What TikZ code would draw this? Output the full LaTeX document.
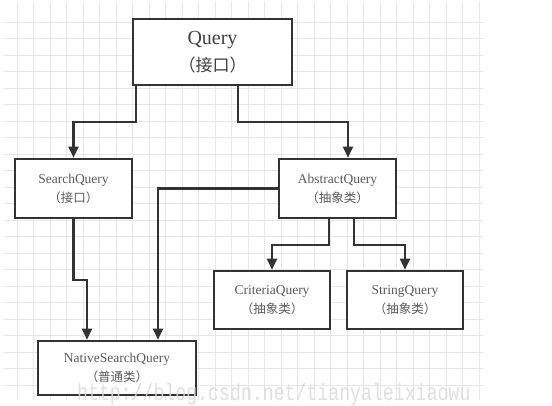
\documentclass[tikz,border=0pt]{standalone}
\usepackage{fontspec}
\setmainfont{Liberation Serif}
\newfontfamily\cjk{Noto Sans CJK SC}
\newfontfamily\wmfont{Liberation Mono}
\usetikzlibrary{arrows.meta}
\definecolor{gridc}{HTML}{E6E6E6}
\definecolor{linec}{HTML}{333333}
\definecolor{txtc}{HTML}{5A5A5A}
\definecolor{wmc}{HTML}{DADADA}
\tikzset{
  box/.style={draw=linec, line width=2.6pt, fill=white, inner sep=0pt, align=center, text=txtc},
  bigbox/.style={box, minimum width=159pt, minimum height=66pt, font=\fontsize{20}{28}\selectfont},
  smallbox/.style={box, minimum width=117pt, minimum height=59pt, font=\fontsize{13.5}{19}\selectfont},
  conn/.style={draw=linec, line width=2.3pt, -{Triangle[length=11pt,width=10pt]}},
  cjksmall/.style={},
}
\newcommand{\cjks}[1]{{\cjk\fontsize{12.5}{15}\selectfont #1}}
\begin{document}
\begin{tikzpicture}[x=1pt,y=-1pt]
\useasboundingbox (0,0) rectangle (552,405);
\fill[white] (0,0) rectangle (552,405);
% grid
\foreach \k in {1,...,29} \draw[gridc, line width=0.9pt] ({0.5+16.5*\k},2) -- ({0.5+16.5*\k},400);
\foreach \k in {1,...,23} \draw[gridc, line width=0.9pt] (3,{5.5+16.5*\k}) -- (483,{5.5+16.5*\k});
% nodes
\node[bigbox, text=black!75] (Q) at (212.5,52) {Query\\[-1pt]{\cjk\fontsize{17}{20}\selectfont （接口）}};
\node[smallbox] (S) at (73.5,188.5) {SearchQuery\\\cjks{（接口）}};
\node[smallbox] (A) at (337.5,188.5) {AbstractQuery\\\cjks{（抽象类）}};
\node[smallbox, minimum width=116pt, minimum height=58pt] (C) at (272,300) {CriteriaQuery\\\cjks{（抽象类）}};
\node[smallbox, minimum width=116pt, minimum height=58pt] (St) at (405,300) {StringQuery\\\cjks{（抽象类）}};
\node[smallbox, minimum width=158pt, minimum height=54pt] (N) at (117,368) {NativeSearchQuery\\\cjks{（普通类）}};
% connectors
\draw[conn] ([xshift=4pt]Q.south west) -- ++(0,36) -| (S.north);
\draw[conn] ([xshift=106pt]Q.south west) -- ++(0,36) -| ([xshift=10.5pt]A.north);
\draw[conn] (S.south) -- ++(0,61) -| ([xshift=-30pt]N.north);
\draw[conn] (A.west) -| ([xshift=41pt]N.north);
\draw[conn] ([xshift=-8.5pt]A.south) -- ++(0,26) -| (C.north);
\draw[conn] ([xshift=16.5pt]A.south) -- ++(0,26) -| (St.north);
% watermark
\node[anchor=base west, inner sep=0pt, text=wmc, opacity=0.85, font=\wmfont\fontsize{18.2}{20}\selectfont] (wm) at (77,400) {\scalebox{1}[1.3]{http://blog.csdn.net/tianyaleixiaowu}};
\end{tikzpicture}
\end{document}
